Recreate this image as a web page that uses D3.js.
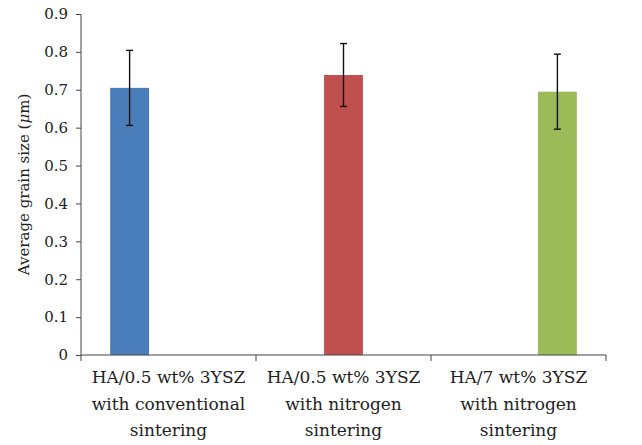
<!DOCTYPE html>
<html>
<head>
<meta charset="utf-8">
<script src="https://cdn.jsdelivr.net/npm/d3@7"></script>
<style>
  body { margin: 0; background: #fff; }
  svg text { font-family: "DejaVu Serif", serif; }
</style>
</head>
<body>
<div class="chart"></div>
<script>
const categories = [
  ['HA/0.5 wt% 3YSZ', 'with conventional', 'sintering'],
  ['HA/0.5 wt% 3YSZ', 'with nitrogen', 'sintering'],
  ['HA/7 wt% 3YSZ', 'with nitrogen', 'sintering']
];
const values = [0.705, 0.739, 0.695];
const errors = [0.099, 0.083, 0.099];
const colors = ['#4a7ebb', '#c0504d', '#9bbb59'];
const yTicks = [0, 0.1, 0.2, 0.3, 0.4, 0.5, 0.6, 0.7, 0.8, 0.9];

const width = 642;
const height = 445;
const margin = { top: 14, right: 36, bottom: 90, left: 81 };

const svg = d3
  .select('.chart')
  .append('svg')
  .attr('width', width)
  .attr('height', height);

const keys = d3.range(categories.length);

const x = d3
  .scaleBand()
  .domain(keys)
  .range([margin.left, width - margin.right])
  .padding(0);

// excel-style clustered layout: each category holds one series slot
const xSub = d3
  .scaleBand()
  .domain(keys)
  .range([0, x.bandwidth()])
  .paddingInner(0)
  .paddingOuter(0.75);

const y = d3
  .scaleLinear()
  .domain([0, 0.9])
  .range([height - margin.bottom, margin.top]);

// bars
svg
  .append('g')
  .selectAll('rect')
  .data(keys)
  .join('rect')
  .attr('x', (i) => x(i) + xSub(i))
  .attr('y', (i) => y(values[i]))
  .attr('width', xSub.bandwidth())
  .attr('height', (i) => y(0) - y(values[i]))
  .attr('fill', (i) => colors[i]);

// error bars
const err = svg.append('g').attr('stroke', '#111').attr('stroke-width', 1.4);
keys.forEach((i) => {
  const cx = x(i) + xSub(i) + xSub.bandwidth() / 2;
  const top = y(values[i] + errors[i]);
  const bot = y(values[i] - errors[i]);
  err.append('line').attr('x1', cx).attr('x2', cx).attr('y1', top).attr('y2', bot);
  err.append('line').attr('x1', cx - 3.5).attr('x2', cx + 3.5).attr('y1', top).attr('y2', top);
  err.append('line').attr('x1', cx - 3.5).attr('x2', cx + 3.5).attr('y1', bot).attr('y2', bot);
});

// y axis
const yAxis = svg
  .append('g')
  .attr('transform', `translate(${margin.left},0)`)
  .call(
    d3.axisLeft(y)
      .tickValues(yTicks)
      .tickSize(5)
      .tickPadding(8)
      .tickFormat((d) => (d === 0 ? '0' : d3.format('.1f')(d)))
  );
yAxis.attr('font-family', null);
yAxis.select('.domain').attr('stroke', '#444').attr('d', `M0,${y(0)}V${y(0.9)}`);
yAxis.selectAll('.tick line').attr('stroke', '#444');
yAxis
  .selectAll('.tick text')
  .attr('font-size', 15)
  .attr('fill', '#222');

// x axis
const xAxisG = svg.append('g').attr('transform', `translate(0,${y(0)})`);
xAxisG
  .append('line')
  .attr('x1', margin.left)
  .attr('x2', width - margin.right)
  .attr('stroke', '#444');
xAxisG
  .selectAll('line.tick')
  .data(keys.concat([keys.length]))
  .join('line')
  .attr('class', 'tick')
  .attr('x1', (i) => (i < keys.length ? x(i) : x(keys.length - 1) + x.bandwidth()))
  .attr('x2', (i) => (i < keys.length ? x(i) : x(keys.length - 1) + x.bandwidth()))
  .attr('y1', 0)
  .attr('y2', 6)
  .attr('stroke', '#444');

const labels = xAxisG
  .selectAll('text')
  .data(keys)
  .join('text')
  .attr('text-anchor', 'middle')
  .attr('font-size', 17)
  .attr('fill', '#222');
labels
  .selectAll('tspan')
  .data((i) => categories[i].map((t) => ({ t, i })))
  .join('tspan')
  .attr('x', (d) => x(d.i) + x.bandwidth() / 2)
  .attr('y', (d, j) => 28 + j * 26.5)
  .text((d) => d.t);

// y title
const title = svg
  .append('text')
  .attr('transform', `translate(25,${(y(0) + y(0.9)) / 2}) rotate(-90)`)
  .attr('text-anchor', 'middle')
  .attr('dominant-baseline', 'middle')
  .attr('font-size', 15)
  .attr('fill', '#222');
title.append('tspan').text('Average grain size (');
title.append('tspan').attr('font-style', 'italic').text('μ');
title.append('tspan').text('m)');
</script>
</body>
</html>
